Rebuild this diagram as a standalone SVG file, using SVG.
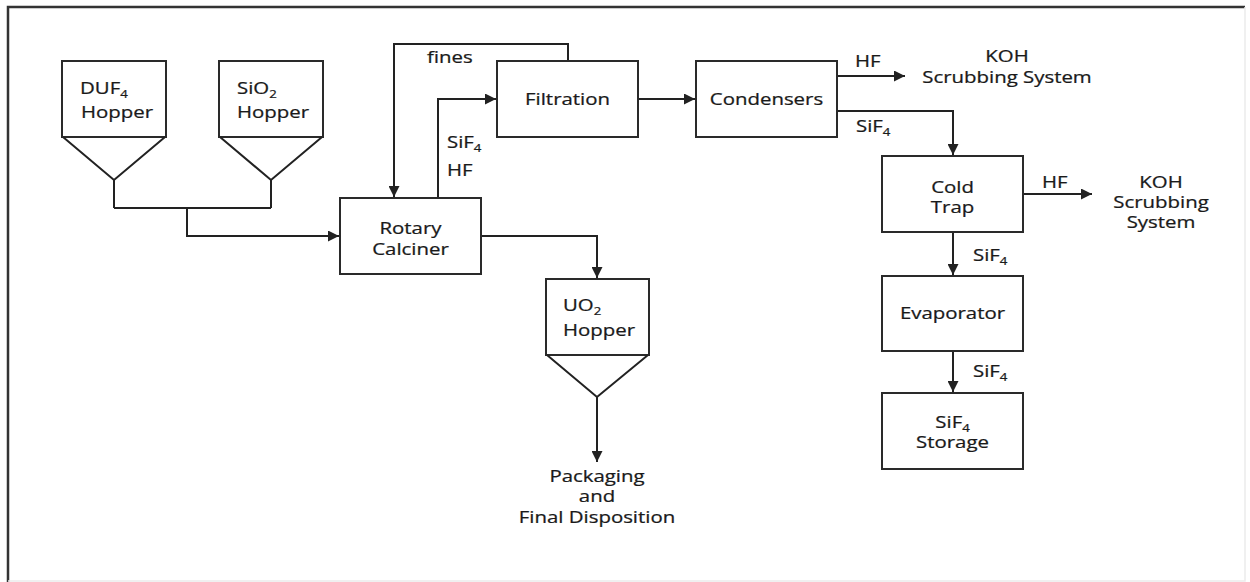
<svg xmlns="http://www.w3.org/2000/svg" width="1250" height="582" viewBox="0 0 1250 582">
<style>
  .box{fill:#fff;stroke:#2a2a2a;stroke-width:2}
  .ln{fill:none;stroke:#222;stroke-width:2}
  .arr{fill:none;stroke:#222;stroke-width:2;marker-end:url(#ah)}
  text{font-family:"Open Sans","Liberation Sans",sans-serif;font-size:17px;fill:#1a1a1a;stroke:#1a1a1a;stroke-width:0.25}
  .sub{font-size:11px}
</style>
<defs>
  <marker id="ah" viewBox="0 0 10 10" refX="10" refY="5" markerWidth="6" markerHeight="5.5" markerUnits="strokeWidth" orient="auto">
    <path d="M0,0 L10,5 L0,10 z" fill="#222"/>
  </marker>
</defs>
<rect x="0" y="0" width="1250" height="582" fill="#fff"/>
<g id="frame">
  <path d="M8,582 V7 H1245" fill="none" stroke="#333" stroke-width="2.5"/>
  <path d="M1245,7 V581 H8" fill="none" stroke="#ececec" stroke-width="1.5"/>
</g>

<g id="connectors">
  <path class="ln" d="M114,180 V208 M271,180 V208 M114,208 H271"/>
  <path class="arr" d="M187,208 V236 H339"/>
  <path class="arr" d="M568,61 V44 H394 V197"/>
  <path class="arr" d="M438,198 V99 H496"/>
  <path class="arr" d="M638,99 H695"/>
  <path class="arr" d="M837,76 H905"/>
  <path class="arr" d="M837,111 H953 V155"/>
  <path class="arr" d="M1023,194 H1092"/>
  <path class="arr" d="M953,232 V275"/>
  <path class="arr" d="M953,351 V392"/>
  <path class="arr" d="M481,236 H597 V278"/>
  <path class="arr" d="M597,397 V462"/>
</g>

<g id="labels">
  <text transform="translate(427,63) scale(1.2,1)">fines</text>
  <text transform="translate(447,148) scale(1.2,1)">SiF<tspan class="sub" dy="4">4</tspan></text>
  <text transform="translate(447,176) scale(1.2,1)">HF</text>
  <text transform="translate(855,67) scale(1.2,1)">HF</text>
  <text transform="translate(856,132) scale(1.2,1)">SiF<tspan class="sub" dy="4">4</tspan></text>
  <text transform="translate(1042,188) scale(1.2,1)">HF</text>
  <text transform="translate(973,261) scale(1.2,1)">SiF<tspan class="sub" dy="4">4</tspan></text>
  <text transform="translate(973,377) scale(1.2,1)">SiF<tspan class="sub" dy="4">4</tspan></text>
</g>

<g id="koh1">
  <text transform="translate(1007,62) scale(1.2,1)" text-anchor="middle">KOH</text>
  <text transform="translate(1007,83) scale(1.2,1)" text-anchor="middle">Scrubbing System</text>
</g>
<g id="koh2">
  <text transform="translate(1161,188) scale(1.2,1)" text-anchor="middle">KOH</text>
  <text transform="translate(1161,208) scale(1.2,1)" text-anchor="middle">Scrubbing</text>
  <text transform="translate(1161,228) scale(1.2,1)" text-anchor="middle">System</text>
</g>
<g id="packaging">
  <text transform="translate(597,482) scale(1.2,1)" text-anchor="middle">Packaging</text>
  <text transform="translate(597,502) scale(1.2,1)" text-anchor="middle">and</text>
  <text transform="translate(597,523) scale(1.2,1)" text-anchor="middle">Final Disposition</text>
</g>

<g id="duf4-hopper">
  <rect class="box" x="62" y="61" width="104" height="76"/>
  <path class="ln" d="M63,137 L114,180 L165,137"/>
  <text transform="translate(80,94) scale(1.2,1)">DUF<tspan class="sub" dy="4">4</tspan></text>
  <text transform="translate(81,118) scale(1.2,1)">Hopper</text>
</g>
<g id="sio2-hopper">
  <rect class="box" x="219" y="61" width="104" height="76"/>
  <path class="ln" d="M220,137 L271,180 L322,137"/>
  <text transform="translate(237,94) scale(1.2,1)">SiO<tspan class="sub" dy="4">2</tspan></text>
  <text transform="translate(237,118) scale(1.2,1)">Hopper</text>
</g>
<g id="rotary-calciner">
  <rect class="box" x="340" y="198" width="141" height="76"/>
  <text transform="translate(410.5,234) scale(1.2,1)" text-anchor="middle">Rotary</text>
  <text transform="translate(410.5,255) scale(1.2,1)" text-anchor="middle">Calciner</text>
</g>
<g id="filtration">
  <rect class="box" x="497" y="61" width="141" height="76"/>
  <text transform="translate(567.5,105) scale(1.2,1)" text-anchor="middle">Filtration</text>
</g>
<g id="condensers">
  <rect class="box" x="696" y="61" width="141" height="76"/>
  <text transform="translate(766.5,105) scale(1.2,1)" text-anchor="middle">Condensers</text>
</g>
<g id="cold-trap">
  <rect class="box" x="882" y="156" width="141" height="76"/>
  <text transform="translate(952.5,193) scale(1.2,1)" text-anchor="middle">Cold</text>
  <text transform="translate(952.5,213) scale(1.2,1)" text-anchor="middle">Trap</text>
</g>
<g id="evaporator">
  <rect class="box" x="882" y="276" width="141" height="75"/>
  <text transform="translate(952.5,319) scale(1.2,1)" text-anchor="middle">Evaporator</text>
</g>
<g id="sif4-storage">
  <rect class="box" x="882" y="393" width="141" height="76"/>
  <text transform="translate(952.5,428) scale(1.2,1)" text-anchor="middle">SiF<tspan class="sub" dy="4">4</tspan></text>
  <text transform="translate(952.5,448) scale(1.2,1)" text-anchor="middle">Storage</text>
</g>
<g id="uo2-hopper">
  <rect class="box" x="546" y="279" width="103" height="76"/>
  <path class="ln" d="M547,355 L597,397 L648,355"/>
  <text transform="translate(563,311) scale(1.2,1)">UO<tspan class="sub" dy="4">2</tspan></text>
  <text transform="translate(563,336) scale(1.2,1)">Hopper</text>
</g>
</svg>
